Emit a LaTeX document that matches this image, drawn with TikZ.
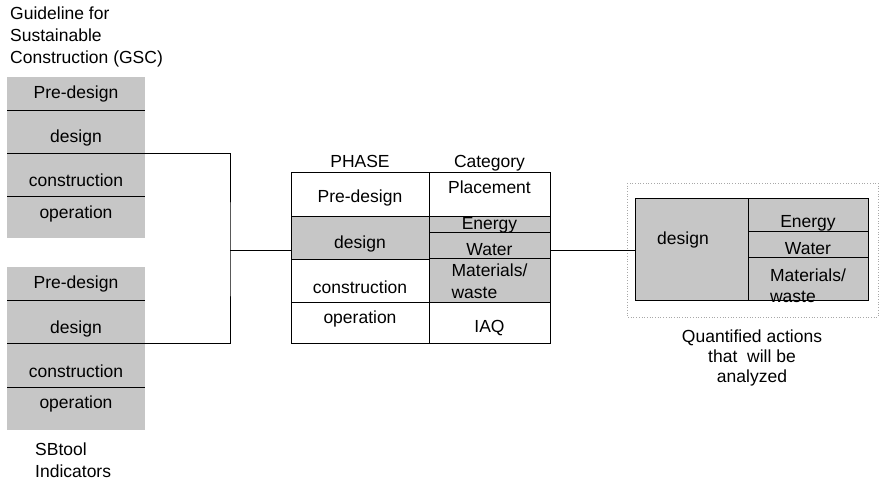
\documentclass[tikz,border=0pt]{standalone}
\usepackage{fontspec}
\setmainfont{Liberation Sans}
\usetikzlibrary{positioning}
\definecolor{halftone}{HTML}{C6C6C6}
\definecolor{dotgray}{HTML}{A8A8A8}

\begin{document}
\begin{tikzpicture}[x=1pt, y=-1pt, font=\fontsize{17.5}{22}\selectfont,
  cell/.style={rectangle, inner sep=0pt, outer sep=0pt, text height=0pt, text depth=0pt},
  shaded/.style={cell, fill=halftone},
  boxed/.style={cell, draw=black, line width=0.7pt},
  link/.style={draw=black, line width=0.7pt},
  caption/.style={inner sep=0pt}]
  \useasboundingbox (0,0) rectangle (881,481);

  % GSC phases (top left)
  \node[caption, anchor=north west, align=left] (gsc-title) at (10,7) {Guideline for\\Sustainable\\Construction (GSC)};
  \node[shaded, anchor=north west, minimum width=138pt, minimum height=33pt] (g-pre) at (7,77) {\raisebox{-5.5pt}{Pre-design}};
  \node[shaded, minimum width=138pt, minimum height=43pt, below=0pt of g-pre] (g-des) {\raisebox{-11.5pt}{design}};
  \node[shaded, minimum width=138pt, minimum height=43pt, below=0pt of g-des] (g-con) {\raisebox{-12pt}{construction}};
  \node[shaded, minimum width=138pt, minimum height=42pt, below=0pt of g-con] (g-op) {\raisebox{-1.5pt}{operation}};
  \draw[link] (g-pre.south west) -- (g-pre.south east);
  \draw[link] (g-des.south west) -- (g-des.south east);
  \draw[link] (g-con.south west) -- (g-con.south east);

  % SBtool phases (bottom left)
  \node[shaded, anchor=north west, minimum width=138pt, minimum height=33pt] (s-pre) at (7,267) {\raisebox{-5.5pt}{Pre-design}};
  \node[shaded, minimum width=138pt, minimum height=43pt, below=0pt of s-pre] (s-des) {\raisebox{-11.5pt}{design}};
  \node[shaded, minimum width=138pt, minimum height=44pt, below=0pt of s-des] (s-con) {\raisebox{-12pt}{construction}};
  \node[shaded, minimum width=138pt, minimum height=43pt, below=0pt of s-con] (s-op) {operation};
  \draw[link] (s-pre.south west) -- (s-pre.south east);
  \draw[link] (s-des.south west) -- (s-des.south east);
  \draw[link] (s-con.south west) -- (s-con.south east);
  \node[caption, anchor=north west, align=left] (sb-title) at (35,443) {SBtool\\Indicators};

  % Phase / category table
  \node[boxed, anchor=north west, minimum width=138pt, minimum height=44pt] (p-pre) at (291,172) {\raisebox{-9pt}{Pre-design}};
  \node[boxed, fill=halftone, minimum width=138pt, minimum height=43pt, below=0pt of p-pre] (p-des) {\raisebox{-10.5pt}{design}};
  \node[boxed, minimum width=138pt, minimum height=43pt, below=0pt of p-des] (p-con) {\raisebox{-12.5pt}{construction}};
  \node[boxed, minimum width=138pt, minimum height=41pt, below=0pt of p-con] (p-op) {\raisebox{-1.5pt}{operation}};
  \node[boxed, anchor=north west, minimum width=121pt, minimum height=44pt] (c-place) at (429,172) {Placement};
  \node[boxed, fill=halftone, minimum width=121pt, minimum height=16pt, below=0pt of c-place] (c-en) {\raisebox{-6pt}{Energy}};
  \node[boxed, fill=halftone, minimum width=121pt, minimum height=26pt, below=0pt of c-en] (c-wat) {\raisebox{-10pt}{Water}};
  \node[boxed, fill=halftone, minimum width=121pt, minimum height=44pt, below=0pt of c-wat] (c-mat)
    {\raisebox{-18pt}{\begin{tabular}[b]{@{}l@{}}Materials/\\waste\end{tabular}}};
  \node[boxed, minimum width=121pt, minimum height=41pt, below=0pt of c-mat] (c-iaq) {\raisebox{-9.5pt}{IAQ}};
  \node[caption, text depth=0pt, above=4pt of p-pre] (phase) {PHASE};
  \node[caption, text depth=0pt, above=4pt of c-place] (category) {Category};

  % Quantified actions (right)
  \draw[dotgray, dotted, line width=0.7pt] (627,183) rectangle (878,317);
  \node[boxed, fill=halftone, anchor=north west, minimum width=113pt, minimum height=102pt] (q-des) at (635,198) {\raisebox{4pt}{design}\hspace*{17pt}};
  \node[boxed, fill=halftone, anchor=north west, minimum width=120pt, minimum height=33pt] (q-en) at (748,198) {\raisebox{-13.5pt}{Energy}};
  \node[boxed, fill=halftone, minimum width=120pt, minimum height=26pt, below=0pt of q-en] (q-wat) {\raisebox{-10pt}{Water}};
  \node[boxed, fill=halftone, minimum width=120pt, minimum height=43pt, below=0pt of q-wat] (q-mat)
    {\raisebox{-24.5pt}{\begin{tabular}[b]{@{}l@{}}Materials/\\waste\end{tabular}}};
  \node[caption, anchor=north, align=center, font=\fontsize{17.5}{20}\selectfont] (q-title) at (752,330) {Quantified actions\\that\ \ will be\\analyzed};

  % Connectors
  \coordinate (join) at (230,250);
  \draw[link] (g-des.south east) -| (join) |- (s-des.south east);
  \draw[link] (join) -- (join -| p-des.west);
  \draw[link] (join -| c-wat.east) -- (join -| q-des.west);
\end{tikzpicture}
\end{document}
